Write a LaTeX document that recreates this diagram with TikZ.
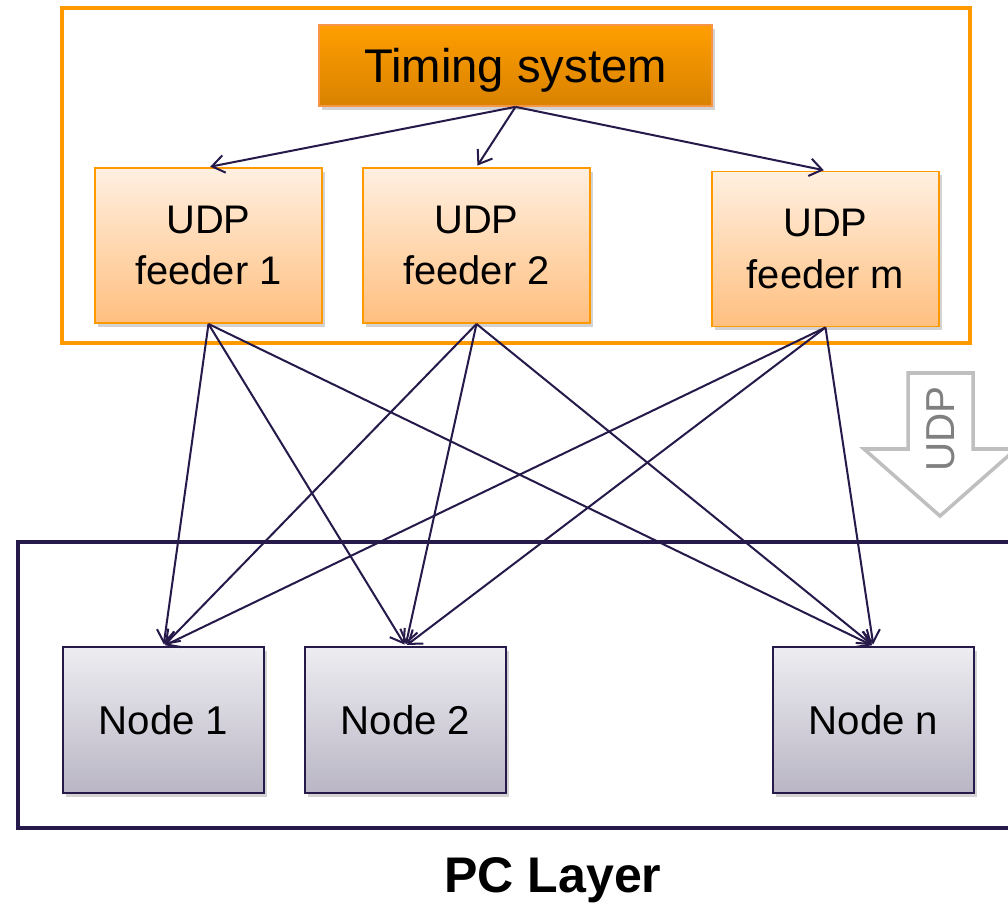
\documentclass[tikz,border=0pt]{standalone}
\usepackage{fontspec}
\setmainfont{Liberation Sans}
\usetikzlibrary{arrows.meta,shadows,calc}
\definecolor{navy}{HTML}{261A4A}
\definecolor{orng}{HTML}{FF9900}
\definecolor{forng}{HTML}{F79646}
\definecolor{gry}{HTML}{BFBFBF}
\definecolor{gtxt}{HTML}{808080}
\tikzset{
  px/.style={x=0.02cm,y=-0.02cm},
  shad/.style={drop shadow={opacity=0.35,shadow xshift=1.5pt,shadow yshift=-2pt}},
  tsbox/.style={shad,draw=forng,line width=1pt,top color=orng!95!yellow,bottom color=orng!85!black,
     minimum width=7.86cm,minimum height=1.62cm,inner sep=0pt,text depth=0pt,
     font=\fontsize{26.9}{32}\selectfont},
  feeder/.style={shad,draw=orng,line width=1.1pt,top color=orange!12,bottom color=orange!50!white,
     minimum width=4.54cm,minimum height=3.1cm,inner sep=0pt,align=center,
     font=\fontsize{22.7}{29.5}\selectfont},
  pcnode/.style={shad,draw=navy,line width=1.1pt,top color=navy!8,bottom color=navy!32,
     minimum width=4.02cm,minimum height=2.92cm,inner sep=0pt,
     font=\fontsize{22.9}{28}\selectfont},
  conn/.style={draw=navy,line width=1.15pt,-{Straight Barb[length=7pt,width=10pt,line width=1.15pt]}},
}
\begin{document}
\begin{tikzpicture}[px]
\useasboundingbox (0,0) rectangle (1008,913);
\clip (0,0) rectangle (1008,913);
% top layer frame
\draw[orng,line width=2.3pt] (62,8) rectangle (970,343);
% bottom layer frame
\draw[navy,line width=2.8pt] (1020,542) -- (18,542) -- (18,828) -- (1020,828);
\node[font=\bfseries\fontsize{28.5}{32}\selectfont] (pcl) at (553,880) {PC Layer};
% UDP hollow arrow
\draw[gry,line width=2pt,fill=white,line join=miter]
  (908,373) -- (973,373) -- (973,449) -- (1016,449) -- (940,516) -- (864,449) -- (908,449) -- cycle;
\node[gtxt,rotate=90,font=\fontsize{23}{26}\selectfont] (udp) at (941,429) {UDP};
% nodes
\node[tsbox] (ts) at (515.5,65.5) {Timing system};
\node[feeder] (f1) at (208.5,245.5) {UDP\\feeder 1};
\node[feeder] (f2) at (476.5,245.5) {UDP\\feeder 2};
\node[feeder] (fm) at (825.5,249) {UDP\\feeder m};
\node[pcnode] (n1) at (163.5,720) {Node 1};
\node[pcnode] (n2) at (405.5,720) {Node 2};
\node[pcnode] (nn) at (873.5,720) {Node n};
% connectors
\foreach \f in {f1,f2,fm}{
  \draw[conn,shorten >=1pt] (ts.south) -- (\f.north);
  \foreach \n in {n1,n2,nn}{
    \draw[conn,shorten >=1pt] (\f.south) -- (\n.north);
  }
}
\end{tikzpicture}
\end{document}
